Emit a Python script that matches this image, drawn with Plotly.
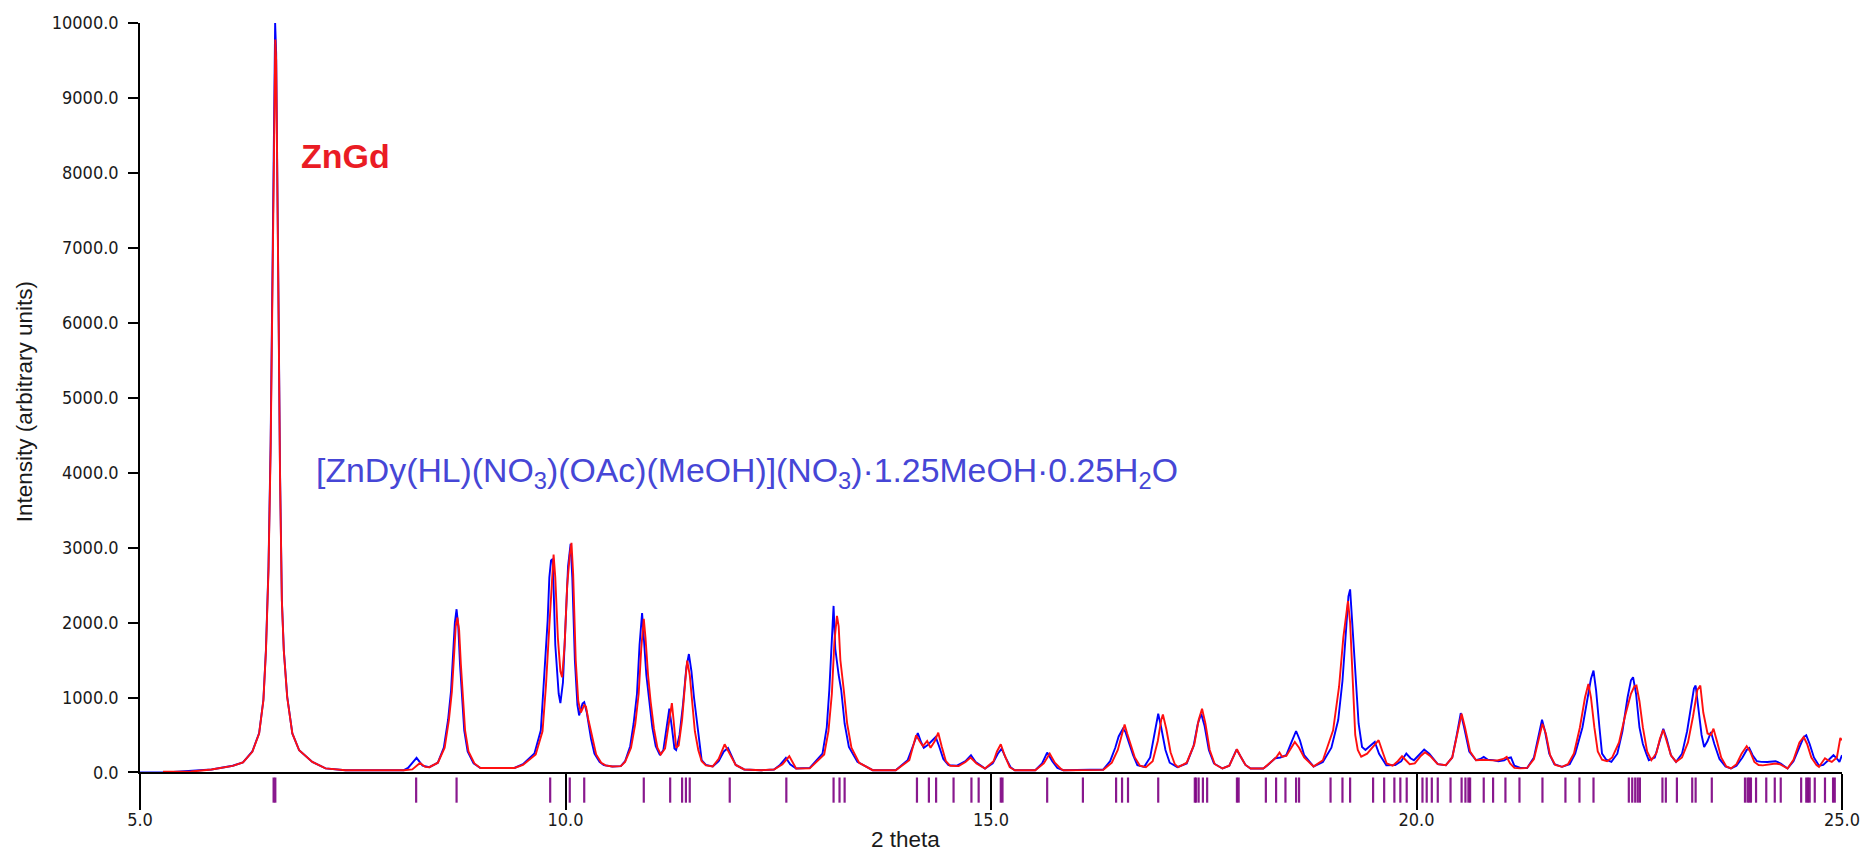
import plotly.graph_objects as go

# ---------------- data ----------------
# blue: [ZnDy(HL)(NO3)(OAc)(MeOH)](NO3)·1.25MeOH·0.25H2O (simulated)
blue_2theta = [
    5.00, 5.30, 5.84, 6.00, 6.09, 6.21, 6.32, 6.40, 6.45, 6.48, 6.51, 6.535, 6.555, 6.57, 6.58, 6.588,
    6.60, 6.615, 6.63, 6.645, 6.667, 6.69, 6.73, 6.79, 6.87, 7.025, 7.18, 7.415, 7.80, 8.10,
    8.15, 8.25, 8.32, 8.40, 8.50, 8.57, 8.62, 8.655, 8.68, 8.70, 8.72, 8.74, 8.76, 8.78, 8.81, 8.85,
    8.92, 9.00, 9.40, 9.50, 9.635, 9.71, 9.75, 9.79, 9.81, 9.83, 9.85, 9.88, 9.92, 9.94, 9.97, 10.00,
    10.03, 10.06, 10.08, 10.11, 10.14, 10.16, 10.20, 10.22, 10.25, 10.30, 10.34, 10.40, 10.45, 10.55,
    10.65, 10.70, 10.76, 10.80, 10.84, 10.87, 10.89, 10.90, 10.92, 10.95, 10.98, 11.02, 11.06, 11.11,
    11.15, 11.19, 11.22, 11.25, 11.28, 11.30, 11.34, 11.38, 11.42, 11.45, 11.48, 11.51, 11.54, 11.57,
    11.60, 11.65, 11.73, 11.80, 11.86, 11.91, 11.95, 12.00, 12.10, 12.30, 12.45, 12.52, 12.59, 12.64,
    12.71, 12.87, 13.02, 13.07, 13.10, 13.13, 13.15, 13.17, 13.19, 13.21, 13.24, 13.28, 13.33, 13.43,
    13.61, 13.88, 14.02, 14.08, 14.14, 14.18, 14.21, 14.26, 14.30, 14.35, 14.39, 14.44, 14.50, 14.60,
    14.70, 14.765, 14.82, 14.93, 15.02, 15.08, 15.125, 15.17, 15.23, 15.28, 15.52, 15.60, 15.66, 15.72,
    15.78, 15.85, 16.32, 16.40, 16.46, 16.50, 16.55, 16.58, 16.62, 16.67, 16.72, 16.80, 16.87, 16.92,
    16.965, 17.00, 17.05, 17.10, 17.19, 17.30, 17.38, 17.43, 17.47, 17.51, 17.56, 17.62, 17.72, 17.80,
    17.85, 17.885, 17.93, 17.99, 18.05, 18.20, 18.25, 18.34, 18.40, 18.47, 18.53, 18.585, 18.63, 18.68,
    18.79, 18.90, 19.00, 19.08, 19.13, 19.17, 19.20, 19.22, 19.25, 19.29, 19.32, 19.36, 19.40, 19.46,
    19.51, 19.56, 19.645, 19.75, 19.82, 19.88, 19.93, 19.97, 20.03, 20.09, 20.15, 20.25, 20.345, 20.42,
    20.47, 20.52, 20.56, 20.62, 20.70, 20.75, 20.79, 20.84, 20.90, 20.96, 21.03, 21.07, 21.11, 21.15,
    21.22, 21.30, 21.38, 21.43, 21.475, 21.51, 21.56, 21.62, 21.71, 21.80, 21.865, 21.95, 22.01, 22.05,
    22.08, 22.11, 22.15, 22.18, 22.23, 22.29, 22.36, 22.42, 22.48, 22.52, 22.545, 22.58, 22.62, 22.66,
    22.70, 22.73, 22.80, 22.86, 22.90, 22.94, 22.99, 23.05, 23.12, 23.18, 23.23, 23.26, 23.28, 23.31,
    23.35, 23.38, 23.42, 23.46, 23.50, 23.56, 23.63, 23.695, 23.76, 23.83, 23.88, 23.91, 23.95, 24.00,
    24.05, 24.12, 24.17, 24.22, 24.28, 24.36, 24.43, 24.50, 24.55, 24.58, 24.62, 24.67, 24.73, 24.78,
    24.84, 24.90, 24.95, 24.97, 25.00,
]
blue_intensity = [
    0, 0, 40, 70, 90, 135, 280, 525, 970, 1640, 2750, 4400, 6400, 8400, 9500, 10000,
    9600, 8100, 6000, 4050, 2300, 1630, 1010, 520, 296, 141, 55, 30, 25, 30,
    60, 195, 90, 70, 130, 330, 700, 1090, 1600, 2000, 2178, 1950, 1450, 1050, 560, 280,
    120, 60, 60, 110, 252, 562, 1226, 2023, 2600, 2828, 2850, 1700, 1050, 924, 1200, 2000,
    2750, 3049, 2600, 1500, 900, 761, 920, 938, 800, 450, 252, 140, 97, 80,
    85, 150, 350, 650, 1050, 1700, 2100, 2125, 1800, 1300, 1000, 600, 350, 230,
    300, 600, 850, 600, 320, 300, 500, 900, 1400, 1580, 1350, 1000, 694, 400,
    163, 100, 80, 150, 280, 327, 220, 100, 40, 30, 40, 100, 194, 110,
    53, 61, 252, 600, 1100, 1900, 2222, 1650, 1450, 1300, 1100, 650, 340, 141,
    30, 30, 163, 350, 526, 400, 330, 370, 420, 473, 350, 180, 97, 90,
    150, 230, 140, 53, 120, 250, 318, 200, 70, 30, 30, 120, 265, 150,
    60, 30, 40, 150, 330, 480, 584, 540, 400, 230, 97, 75, 200, 500,
    783, 600, 300, 130, 70, 120, 350, 650, 783, 620, 300, 120, 53, 90,
    220, 305, 220, 100, 53, 53, 97, 190, 200, 230, 400, 553, 430, 230,
    80, 140, 330, 700, 1220, 1900, 2350, 2443, 1900, 1220, 650, 340, 300, 360,
    407, 250, 97, 100, 150, 252, 190, 163, 230, 305, 250, 110, 97, 200,
    480, 792, 600, 280, 163, 180, 207, 170, 165, 150, 160, 190, 200, 90,
    60, 60, 200, 450, 704, 550, 250, 110, 75, 110, 252, 600, 1000, 1250,
    1359, 1100, 600, 252, 170, 141, 250, 550, 1000, 1230, 1270, 1050, 600, 380,
    252, 163, 200, 450, 584, 450, 230, 141, 250, 550, 950, 1120, 1160, 900,
    500, 340, 420, 540, 380, 180, 80, 53, 90, 200, 300, 327, 230, 150,
    141, 140, 145, 150, 120, 53, 150, 330, 470, 495, 380, 200, 90, 100,
    170, 230, 170, 141, 230,
]

# red: ZnGd (experimental)
red_2theta = [
    5.27, 5.60, 5.84, 6.00, 6.09, 6.21, 6.32, 6.40, 6.45, 6.48, 6.51, 6.535, 6.555, 6.57, 6.58, 6.59,
    6.60, 6.615, 6.63, 6.645, 6.667, 6.69, 6.73, 6.79, 6.87, 7.025, 7.18, 7.415, 7.80, 8.10,
    8.20, 8.29, 8.35, 8.40, 8.50, 8.58, 8.63, 8.665, 8.69, 8.71, 8.73, 8.75, 8.77, 8.79, 8.82, 8.86,
    8.93, 9.00, 9.40, 9.50, 9.65, 9.73, 9.77, 9.81, 9.84, 9.86, 9.88, 9.91, 9.94, 9.96, 9.99, 10.02,
    10.05, 10.07, 10.09, 10.12, 10.15, 10.18, 10.22, 10.24, 10.27, 10.32, 10.36, 10.42, 10.47, 10.55,
    10.65, 10.70, 10.77, 10.82, 10.86, 10.89, 10.91, 10.92, 10.94, 10.97, 11.00, 11.04, 11.08, 11.12,
    11.17, 11.21, 11.25, 11.27, 11.30, 11.33, 11.37, 11.41, 11.43, 11.46, 11.49, 11.52, 11.56, 11.60,
    11.65, 11.73, 11.80, 11.87, 11.93, 12.00, 12.10, 12.30, 12.45, 12.55, 12.63, 12.68, 12.71, 12.87,
    13.04, 13.09, 13.13, 13.16, 13.19, 13.21, 13.23, 13.27, 13.31, 13.36, 13.45, 13.61, 13.88, 14.04,
    14.09, 14.12, 14.16, 14.20, 14.25, 14.29, 14.34, 14.38, 14.42, 14.47, 14.52, 14.62, 14.70, 14.76,
    14.83, 14.93, 15.03, 15.07, 15.115, 15.16, 15.22, 15.28, 15.52, 15.62, 15.69, 15.75, 15.82, 15.85,
    16.32, 16.42, 16.49, 16.54, 16.57, 16.60, 16.64, 16.69, 16.75, 16.82, 16.90, 16.96, 17.00, 17.02,
    17.06, 17.11, 17.16, 17.20, 17.30, 17.39, 17.44, 17.48, 17.52, 17.57, 17.63, 17.72, 17.80, 17.85,
    17.89, 17.93, 17.99, 18.05, 18.20, 18.28, 18.35, 18.39, 18.42, 18.47, 18.53, 18.57, 18.62, 18.68,
    18.79, 18.90, 19.02, 19.09, 19.14, 19.18, 19.195, 19.22, 19.24, 19.26, 19.28, 19.31, 19.35, 19.42,
    19.49, 19.555, 19.60, 19.65, 19.72, 19.78, 19.83, 19.88, 19.92, 19.98, 20.05, 20.10, 20.16, 20.25,
    20.345, 20.42, 20.48, 20.53, 20.57, 20.63, 20.70, 20.75, 20.79, 20.85, 20.95, 21.02, 21.06, 21.10,
    21.15, 21.22, 21.30, 21.38, 21.43, 21.48, 21.52, 21.57, 21.63, 21.71, 21.78, 21.85, 21.92, 21.98,
    22.02, 22.05, 22.09, 22.13, 22.18, 22.24, 22.30, 22.38, 22.45, 22.52, 22.56, 22.585, 22.62, 22.66,
    22.71, 22.76, 22.82, 22.86, 22.90, 22.94, 22.99, 23.05, 23.12, 23.19, 23.25, 23.30, 23.335, 23.37,
    23.42, 23.46, 23.49, 23.53, 23.58, 23.64, 23.695, 23.76, 23.82, 23.88, 23.92, 23.97, 24.02, 24.07,
    24.15, 24.22, 24.27, 24.36, 24.43, 24.50, 24.55, 24.59, 24.64, 24.70, 24.73, 24.80, 24.84, 24.88,
    24.94, 24.98, 25.00,
]
red_intensity = [
    10, 12, 40, 70, 88, 135, 275, 520, 960, 1620, 2700, 4300, 6300, 8300, 9400, 9780,
    9500, 8000, 5900, 4000, 2290, 1620, 1000, 520, 296, 141, 55, 30, 25, 30,
    40, 127, 75, 70, 130, 330, 700, 1080, 1550, 1950, 2067, 1900, 1450, 1030, 560, 280,
    120, 60, 60, 100, 240, 550, 1150, 1950, 2600, 2908, 2600, 1800, 1350, 1270, 1700, 2500,
    2900, 3063, 2650, 1500, 950, 800, 900, 880, 700, 420, 240, 130, 95, 80,
    85, 140, 330, 650, 1050, 1650, 2000, 2050, 1800, 1300, 950, 580, 330, 240,
    320, 600, 924, 700, 330, 360, 700, 1250, 1491, 1300, 900, 550, 300, 150,
    95, 80, 180, 376, 250, 100, 40, 30, 40, 110, 216, 100, 53, 55,
    240, 550, 1050, 1750, 2089, 1950, 1500, 1100, 650, 330, 130, 30, 30, 163,
    380, 498, 420, 350, 420, 330, 420, 531, 350, 150, 90, 85, 140, 200,
    120, 53, 150, 280, 376, 230, 70, 30, 30, 120, 252, 130, 50, 30,
    35, 130, 300, 520, 641, 520, 380, 200, 90, 70, 150, 420, 700, 774,
    580, 270, 110, 70, 130, 380, 700, 850, 650, 300, 110, 53, 90, 220,
    310, 220, 100, 53, 53, 130, 200, 265, 210, 220, 330, 407, 330, 200,
    80, 163, 562, 1144, 1800, 2200, 2288, 2000, 1500, 1000, 500, 300, 210, 250,
    350, 430, 280, 120, 90, 150, 216, 160, 110, 120, 220, 270, 220, 110,
    97, 200, 500, 783, 600, 280, 163, 170, 170, 165, 160, 180, 207, 120,
    60, 55, 60, 180, 420, 650, 520, 230, 100, 75, 110, 252, 600, 1000,
    1182, 1000, 600, 280, 170, 150, 200, 400, 750, 1050, 1150, 1160, 950, 600,
    280, 163, 260, 450, 570, 430, 230, 141, 200, 400, 750, 1100, 1160, 800,
    520, 500, 584, 420, 200, 80, 53, 110, 250, 350, 280, 140, 100, 95,
    110, 120, 110, 53, 170, 400, 473, 380, 200, 100, 75, 190, 160, 141,
    200, 460, 430,
]

# calculated reflection positions (purple ticks)
reflections = [
    6.57, 6.59, 8.245, 8.72, 9.82, 10.05, 10.22, 10.92, 11.23, 11.37, 11.415, 11.46, 11.93,
    12.595, 13.15, 13.22, 13.28, 14.13, 14.27, 14.355, 14.56, 14.77, 14.855, 15.115, 15.135,
    15.66, 16.08, 16.47, 16.54, 16.61, 16.965, 17.395, 17.41, 17.44, 17.49, 17.54, 17.89, 17.91,
    18.23, 18.35, 18.46, 18.585, 18.62, 18.99, 19.13, 19.22, 19.49, 19.62, 19.74, 19.81, 19.885,
    20.07, 20.12, 20.18, 20.25, 20.40, 20.53, 20.575, 20.61, 20.63, 20.79, 20.90, 21.045, 21.21,
    21.48, 21.75, 21.915, 22.08, 22.495, 22.535, 22.57, 22.60, 22.625, 22.89, 22.93, 23.06, 23.24,
    23.28, 23.47, 23.86, 23.89, 23.91, 23.93, 23.99, 24.11, 24.21, 24.28, 24.52, 24.58, 24.60,
    24.62, 24.68, 24.80, 24.895, 24.915,
]

x_ticks = [5, 10, 15, 20, 25]

label_znGd = "ZnGd"
label_znDy = "[ZnDy(HL)(NO<sub>3</sub>)(OAc)(MeOH)](NO<sub>3</sub>)·1.25MeOH·0.25H<sub>2</sub>O"

# ---------------- layout geometry (pixels) ----------------
W, H = 1872, 852
ML, MR, MT, MB = 140, 20, 20, 40
PW, PH = W - ML - MR, H - MT - MB


def px(xp):
    return (xp - ML) / PW


def py(yp):
    return (H - MB - yp) / PH


y_main_bottom = py(772.3)
y2_top = py(776.0)
mark_frac = (H - MB - 790.0) / (y2_top * PH)   # where the tick rows sit inside the lower band

fig = go.Figure()

fig.add_trace(go.Scatter(
    x=blue_2theta, y=blue_intensity, mode="lines",
    line=dict(color="#0000ff", width=1.9), name="ZnDy", showlegend=False,
    xaxis="x", yaxis="y",
))
fig.add_trace(go.Scatter(
    x=red_2theta, y=red_intensity, mode="lines",
    line=dict(color="#ff1010", width=1.9), name="ZnGd", showlegend=False,
    xaxis="x", yaxis="y",
))
fig.add_trace(go.Scatter(
    x=reflections, y=[0] * len(reflections), mode="markers",
    marker=dict(symbol="line-ns", size=18, opacity=0.9,
                line=dict(color="rgb(125,0,130)", width=2.2)),
    showlegend=False, xaxis="x", yaxis="y2", hoverinfo="x", cliponaxis=False,
))

tick_font = dict(family="DejaVu Sans Condensed, Liberation Sans, sans-serif", size=18, color="#1a1a1a")

fig.update_layout(
    width=W, height=H,
    margin=dict(l=ML, r=MR, t=MT, b=MB),
    paper_bgcolor="white", plot_bgcolor="rgba(0,0,0,0)",
    xaxis=dict(
        range=[5, 25], tickvals=x_ticks, tickformat=".1f", anchor="y",
        showline=True, linecolor="black", linewidth=1.5,
        ticks="outside", ticklen=36, tickwidth=1.5, tickcolor="black",
        showgrid=False, zeroline=False, tickfont=tick_font, ticklabelstandoff=-6,
    ),
    yaxis=dict(
        range=[0, 10000], dtick=1000, tickformat=".1f",
        domain=[y_main_bottom, 1], anchor="x",
        showline=True, linecolor="black", linewidth=1.5,
        ticks="outside", ticklen=10, tickwidth=1.5, tickcolor="black",
        showgrid=False, zeroline=False, tickfont=tick_font, ticklabelstandoff=6,
    ),
    yaxis2=dict(
        range=[-mark_frac, 1 - mark_frac], domain=[0, y2_top], anchor="x",
        visible=False, showgrid=False, zeroline=False,
    ),
    annotations=[
        dict(text=label_znGd, xref="paper", yref="paper", x=px(300), y=py(154),
             xanchor="left", yanchor="middle", showarrow=False,
             font=dict(family="Liberation Sans, Arial, sans-serif", size=34, color="#ea1c24", weight="bold")),
        dict(text=label_znDy, xref="paper", yref="paper", x=px(315), y=py(471),
             xanchor="left", yanchor="middle", showarrow=False,
             font=dict(family="Liberation Sans, Arial, sans-serif", size=33.8, color="#4646d6")),
        dict(text="2 theta", xref="paper", yref="paper", x=px(909.5), y=py(840),
             xanchor="center", yanchor="middle", showarrow=False,
             font=dict(family="Liberation Sans, Arial, sans-serif", size=22.5, color="#1a1a1a")),
        dict(text="Intensity (arbitrary units)", xref="paper", yref="paper", x=px(24), y=py(400),
             xanchor="center", yanchor="middle", showarrow=False, textangle=-90,
             font=dict(family="Liberation Sans, Arial, sans-serif", size=22.5, color="#1a1a1a")),
    ],
)

fig.write_html(
    "out.html",
    config={"displayModeBar": False},
    post_script="document.body.style.margin='0';document.body.style.overflow='hidden';",
)
